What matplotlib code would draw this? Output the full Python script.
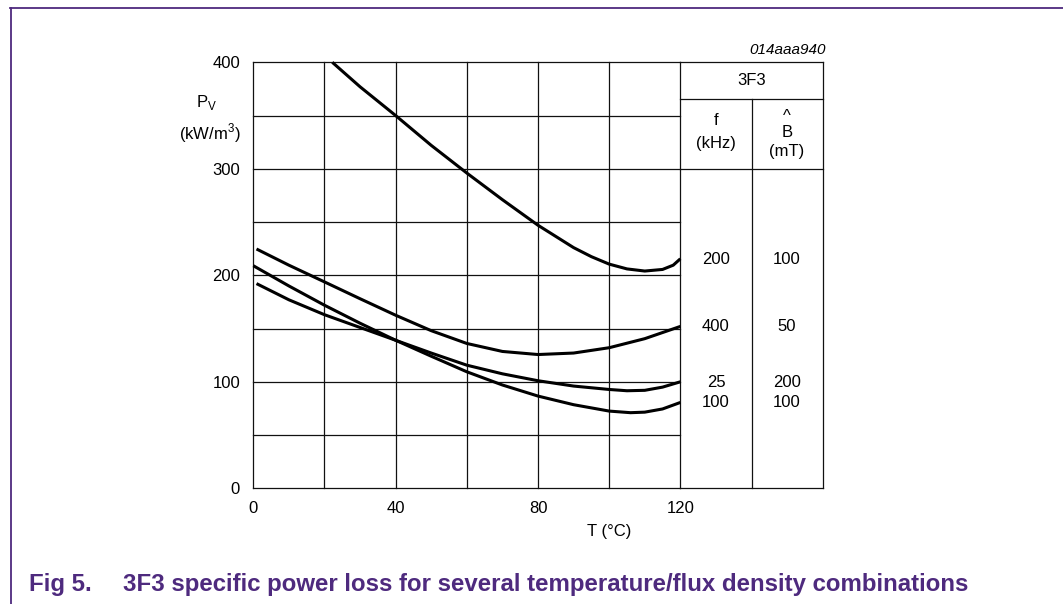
import matplotlib
matplotlib.use("Agg")
import matplotlib.pyplot as plt
from matplotlib.lines import Line2D

plt.rcParams['font.family'] = ['Liberation Sans', 'DejaVu Sans']
plt.rcParams['mathtext.fontset'] = 'custom'
plt.rcParams['mathtext.rm'] = 'Liberation Sans'

# ---- data ----
t_200k = [22.2, 30, 40, 50, 60, 70, 80, 90, 95, 100, 105, 110, 115, 118, 120]
p_200k = [400, 377, 350, 322, 296, 271, 247, 226, 217.5, 210.5, 206, 204, 205.5, 209.5, 215.5]

t_400k = [0.9, 10, 20, 30, 40, 50, 60, 70, 80, 90, 100, 110, 120]
p_400k = [224.7, 209.5, 193.8, 178, 162.5, 148, 136, 128.5, 125.6, 127, 132, 140.5, 152]

t_25k = [0.9, 10, 20, 30, 40, 50, 60, 70, 80, 90, 100, 105, 110, 115, 120]
p_25k = [192.2, 177, 163, 151, 139, 127, 115.6, 107.5, 101, 96, 92.8, 91.6, 92, 95, 100]

t_100k = [0, 10, 20, 30, 40, 50, 60, 70, 80, 90, 100, 106, 110, 115, 120]
p_100k = [209, 190, 171.9, 155, 139, 124, 109.4, 97, 86.6, 78.5, 72.5, 71, 71.5, 74.5, 80.6]

x_ticks = [0, 40, 80, 120]
y_ticks = [0, 100, 200, 300, 400]

freq_labels = ["200", "400", "25", "100"]
flux_labels = ["100", "50", "200", "100"]
label_y = [214.7, 151.6, 99.5, 80.3]

W, H = 1063, 604
fig = plt.figure(figsize=(W / 100, H / 100), dpi=100)

x0, x1 = 253.3, 822.7
y0, y1 = 488.3, 62.3
ax = fig.add_axes([x0 / W, 1 - y0 / H, (x1 - x0) / W, (y0 - y1) / H])
ax.set_xlim(0, 160)
ax.set_ylim(0, 400)
for s in ax.spines.values():
    s.set_visible(False)

ax.set_xticks(x_ticks)
ax.set_yticks(y_ticks)
ax.tick_params(length=0, labelsize=12, colors='black')
ax.tick_params(axis='y', pad=9.5)
ax.tick_params(axis='x', pad=9)

glw = 0.9
gc = '#111111'
# grid inside plot
for x in range(0, 121, 20):
    ax.plot([x, x], [0, 400], color=gc, lw=glw, clip_on=False, zorder=1)
for y in range(0, 401, 50):
    ax.plot([0, 120], [y, y], color=gc, lw=glw, clip_on=False, zorder=1)
# table
ax.plot([120, 160], [400, 400], color=gc, lw=glw, clip_on=False)
ax.plot([120, 160], [0, 0], color=gc, lw=glw, clip_on=False)
ax.plot([120, 160], [300, 300], color=gc, lw=glw, clip_on=False)
ax.plot([120, 160], [365.5, 365.5], color=gc, lw=glw, clip_on=False)
ax.plot([140, 140], [0, 365.5], color=gc, lw=glw, clip_on=False)
ax.plot([160, 160], [0, 400], color=gc, lw=glw, clip_on=False)

clw = 2.2
for t, p in [(t_200k, p_200k), (t_400k, p_400k), (t_25k, p_25k), (t_100k, p_100k)]:
    ax.plot(t, p, color='black', lw=clw, solid_joinstyle='round',
            solid_capstyle='butt', zorder=3, clip_on=False)

fs = 12
ax.text(140, 382.7, "3F3", ha='center', va='center', fontsize=fs)
ax.text(130, 345, "f", ha='center', va='center', fontsize=fs)
ax.text(130, 323.5, "(kHz)", ha='center', va='center', fontsize=fs)
ax.text(150, 349, "^", ha='center', va='center', fontsize=fs)
ax.text(150, 334, "B", ha='center', va='center', fontsize=fs)
ax.text(150, 316, "(mT)", ha='center', va='center', fontsize=fs)
for f_, b_, y_ in zip(freq_labels, flux_labels, label_y):
    ax.text(130, y_, f_, ha='center', va='center', fontsize=fs)
    ax.text(150, y_, b_, ha='center', va='center', fontsize=fs)

ax.text(161, 411.5, "014aaa940", ha='right', va='center', fontsize=11, style='italic')
ax.text(-13.2, 361.8, r"P$_\mathregular{V}$", ha='center', va='center', fontsize=fs)
ax.text(-12.2, 333.2, r"(kW/m$^\mathregular{3}$)", ha='center', va='center', fontsize=fs)
ax.text(100, -41, "T (°C)", ha='center', va='center', fontsize=fs)

purple = '#4E2A7E'
fig.add_artist(Line2D([10 / W, 1], [1 - 8 / H, 1 - 8 / H], color=purple, lw=1.3))
fig.add_artist(Line2D([11 / W, 11 / W], [1 - 8 / H, 0], color=purple, lw=1.3))

cap_y = 1 - 591 / H
fig.text(29 / W, cap_y, "Fig 5.", fontsize=17.3, fontweight='bold', color=purple, va='baseline')
fig.text(123 / W, cap_y, "3F3 specific power loss for several temperature/flux density combinations",
         fontsize=17.3, fontweight='bold', color=purple, va='baseline')

fig.savefig("out.png", dpi=100)
